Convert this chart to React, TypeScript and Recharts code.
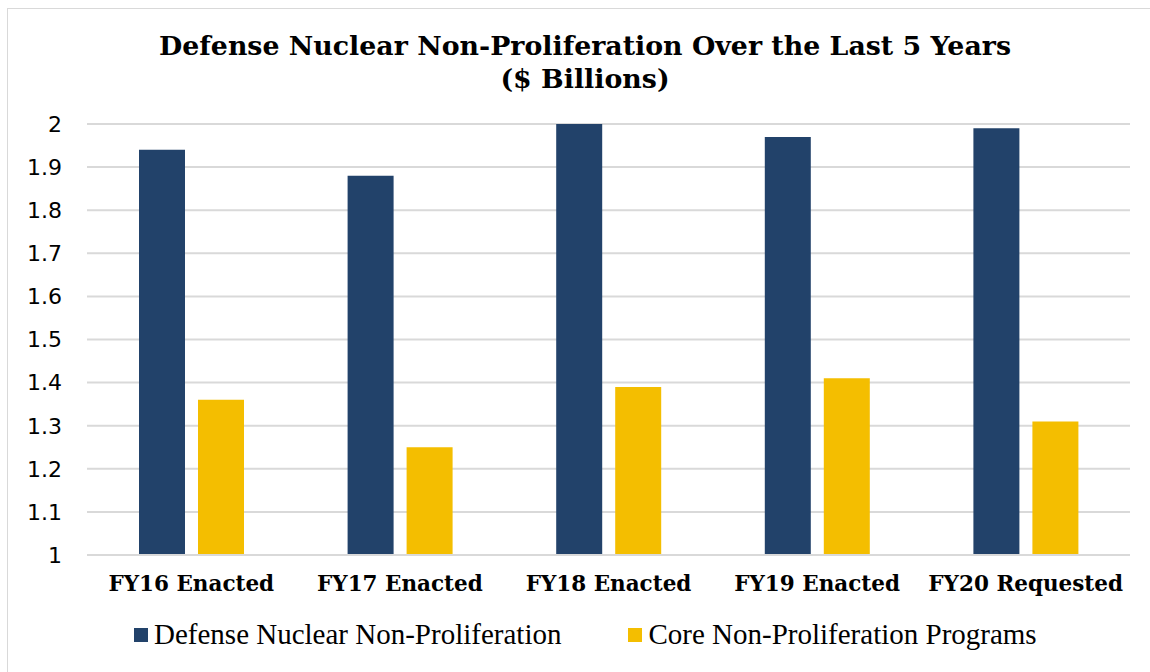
import React from "react";
import { BarChart, Bar, XAxis, YAxis, CartesianGrid } from "recharts";

const categories = ["FY16 Enacted", "FY17 Enacted", "FY18 Enacted", "FY19 Enacted", "FY20 Requested"];
const defenseNuclear = [1.94, 1.88, 2.0, 1.97, 1.99];
const coreNonProlif = [1.36, 1.25, 1.39, 1.41, 1.31];
const yTicks = [1, 1.1, 1.2, 1.3, 1.4, 1.5, 1.6, 1.7, 1.8, 1.9, 2];

const seriesNames = ["Defense Nuclear Non-Proliferation", "Core Non-Proliferation Programs"];
const seriesColors = ["#22426A", "#F4BE00"];

const data = categories.map((c, i) => ({
  name: c,
  dnn: defenseNuclear[i],
  core: coreNonProlif[i],
}));

const serif = "'Liberation Serif', 'DejaVu Serif', serif";
const wideSerif = "'DejaVu Serif', serif";
const sans = "'DejaVu Sans', sans-serif";

export default function App() {
  return (
    <div style={{ position: "absolute", left: 0, top: 0, width: 1150, height: 672, background: "#fff", overflow: "hidden" }}>
      <div style={{ position: "absolute", left: 7, top: 8, width: 1200, height: 800, border: "1px solid #D9D9D9" }} />
      <div
        style={{
          position: "absolute",
          left: 85,
          width: 1000,
          top: 29,
          textAlign: "center",
          fontFamily: wideSerif,
          fontWeight: "bold",
          fontSize: 26.8,
          lineHeight: "33px",
          color: "#000",
        }}
      >
        Defense Nuclear Non-Proliferation Over the Last 5 Years
        <br />($ Billions)
      </div>
      <div style={{ position: "absolute", left: 0, top: 0 }}>
        <BarChart
          width={1150}
          height={672}
          data={data}
          margin={{ top: 124, right: 20, bottom: 0, left: 0 }}
          barSize={46}
          barGap={13}
        >
          <CartesianGrid vertical={false} stroke="#D9D9D9" strokeWidth={2} />
          <XAxis
            dataKey="name"
            height={117}
            tickLine={false}
            tickSize={0}
            tickMargin={21}
            axisLine={{ stroke: "#D9D9D9", strokeWidth: 2 }}
            tick={{ fill: "#000", fontFamily: wideSerif, fontWeight: "bold", fontSize: 21.5 }}
            interval={0}
          />
          <YAxis
            width={87}
            domain={[1, 2]}
            ticks={yTicks}
            tickLine={false}
            axisLine={false}
            tickSize={0}
            tickMargin={25}
            tick={{ fill: "#000", fontFamily: sans, fontSize: 22 }}
            allowDataOverflow
          />
          <Bar dataKey="dnn" fill={seriesColors[0]} isAnimationActive={false} />
          <Bar dataKey="core" fill={seriesColors[1]} isAnimationActive={false} />
        </BarChart>
      </div>
      <div
        style={{
          position: "absolute",
          top: 618,
          left: 134,
          display: "flex",
          alignItems: "center",
          fontFamily: serif,
          fontSize: 29,
          color: "#000",
          whiteSpace: "nowrap",
        }}
      >
        {seriesNames.map((n, i) => (
          <div key={n} style={{ display: "flex", alignItems: "center", marginRight: i === 0 ? 67 : 0 }}>
            <span style={{ display: "inline-block", width: 14, height: 14, background: seriesColors[i], marginRight: 6 }} />
            <span>{n}</span>
          </div>
        ))}
      </div>
    </div>
  );
}
